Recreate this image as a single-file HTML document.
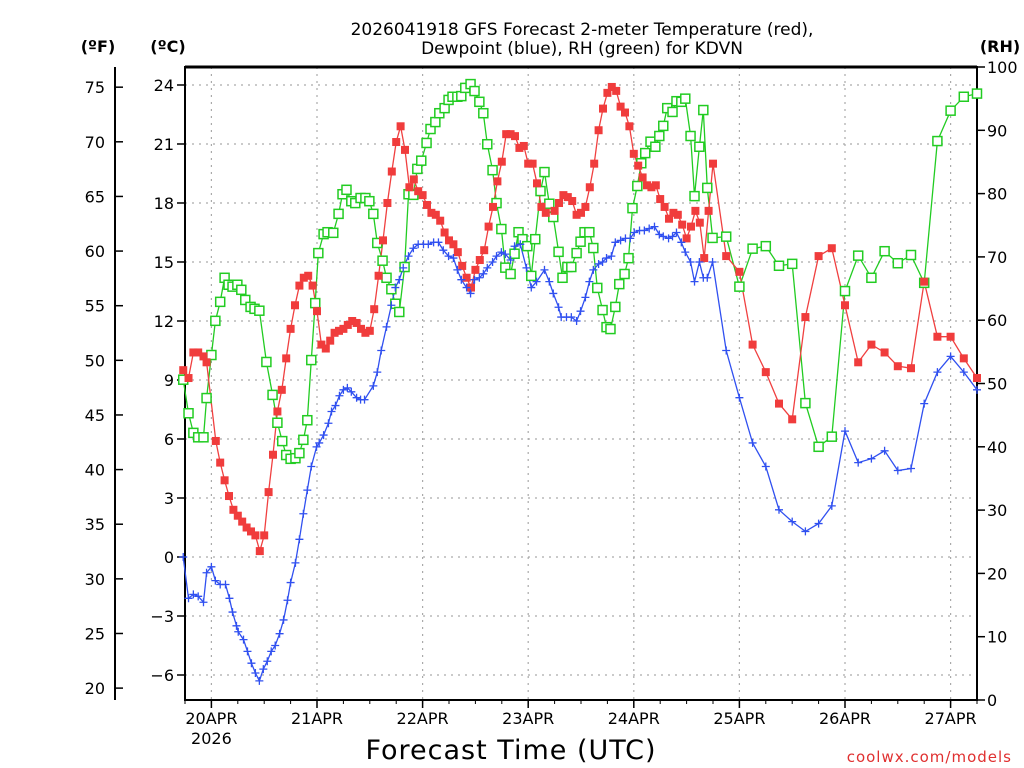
<!DOCTYPE html>
<html><head><meta charset="utf-8"><style>
html,body{margin:0;padding:0;background:#fff;}
svg{display:block;font-family:"DejaVu Sans","Liberation Sans",sans-serif;}
</style></head><body>
<svg id="chart" width="1024" height="768" viewBox="0 0 1024 768" xmlns="http://www.w3.org/2000/svg">
<text x="582" y="35" font-size="17" text-anchor="middle">2026041918 GFS Forecast 2-meter Temperature (red),</text>
<text x="582" y="54" font-size="17" text-anchor="middle">Dewpoint (blue), RH (green) for KDVN</text>
<text x="98" y="52" font-size="16" font-weight="bold" text-anchor="middle">(ºF)</text>
<text x="168" y="52" font-size="16" font-weight="bold" text-anchor="middle">(ºC)</text>
<text x="1000" y="52" font-size="16" font-weight="bold" text-anchor="middle">(RH)</text>
<text x="511" y="759" font-size="27" text-anchor="middle" letter-spacing="1">Forecast Time (UTC)</text>
<text x="1012" y="762" font-size="15" fill="#e03030" text-anchor="end" letter-spacing="1">coolwx.com/models</text>
<g id="grid"></g><g id="axes"></g><g id="series"></g>
</svg>
<script>
const dayLabels = ["20APR","21APR","22APR","23APR","24APR","25APR","26APR","27APR"];
const dayHours = [0,24,48,72,96,120,144,168];
const cTicks = [-6,-3,0,3,6,9,12,15,18,21,24];
const fTicks = [20,25,30,35,40,45,50,55,60,65,70,75];
const rhTicks = [0,10,20,30,40,50,60,70,80,90,100];

const tempHours = [-6.4,-5.2,-4.1,-3,-1.8,-1.1,1,2,3,4,5,6,7,8,9,10,11,12,13,14,15,16,17,18,19,20,21,22,23,24,25,26,27,28,29,30,31,32,33,34,35,36,37,38,39,40,41,42,43,44,45,46,47,48,49,50,51,52,53,54,55,56,57,58,59,60,61,62,63,64,65,66,67,68,69,70,71,72,73,74,75,76,78,79,80,81,82,83,84,85,86,87,88,89,90,91,92,93,94,95,96,97,98,99,100,101,102,103,104,105,106,107,108,109,110,111,112,113,114,117,120,123,126,129,132,135,138,141,144,147,150,153,156,159,162,165,168,171,174];
const tempC = [9.5,9.1,10.4,10.4,10.2,9.9,5.9,4.8,3.9,3.1,2.4,2.1,1.8,1.5,1.3,1.1,0.3,1.1,3.3,5.2,7.4,8.5,10.1,11.6,12.8,13.8,14.2,14.3,13.8,12.5,10.8,10.6,11.0,11.4,11.5,11.6,11.8,12.0,11.9,11.6,11.4,11.5,12.6,14.3,16.1,18.0,19.6,21.1,21.9,20.7,18.8,19.2,18.6,18.4,17.9,17.5,17.4,17.1,16.5,16.1,15.9,15.5,14.8,14.2,13.7,14.6,15.1,15.6,16.8,17.8,19.1,20.1,21.5,21.5,21.4,20.8,20.9,20.0,20.0,19.0,17.8,17.5,17.6,18.0,18.4,18.3,18.1,17.4,17.5,17.8,18.8,20.0,21.7,22.8,23.6,23.9,23.7,22.9,22.6,21.9,20.5,19.9,19.3,18.9,18.8,18.9,18.2,17.8,17.2,17.5,17.4,16.9,16.2,16.8,17.6,17.0,15.2,17.6,20.0,15.3,14.5,10.8,9.4,7.8,7.0,12.2,15.3,15.7,12.8,9.9,10.8,10.4,9.7,9.6,14.0,11.2,11.2,10.1,9.1];

const dewHours = [-6.4,-5.2,-4.1,-3,-1.8,-1.1,0,0.9,2,3.2,4.1,4.8,5.7,6.1,7.3,8.2,9.1,10,10.9,11.8,12.7,13.6,14.5,15.5,16.4,17.3,18,19.1,20,20.9,21.8,22.7,23.9,24.5,25.5,26.6,27.3,28.2,29.1,30,30.9,31.8,33,33.9,34.8,36.8,37.7,38.6,39.8,40.9,41.8,42.7,43.6,44.8,45.9,47,48.2,49.3,50.5,51.6,52.7,53.9,55,55.9,56.8,58,58.9,59.8,60.9,61.8,62.7,63.9,64.8,65.9,66.8,68,68.9,70.2,71.6,72.7,73.9,75.7,76.8,77.7,78.9,79.5,80.7,81.8,83,83.9,85,85.9,86.8,88,88.9,89.8,90.9,91.8,93,94.1,95.2,96.1,97.3,98.4,99.5,100.7,101.8,102.7,103.9,104.8,105.7,106.8,107.7,108.9,109.8,110.9,111.8,112.7,113.9,117,120,123,126,129,132,135,138,141,144,147,150,153,156,159,162,165,168,171,174];
const dewC = [0,-2.1,-1.9,-2.0,-2.3,-0.8,-0.5,-1.2,-1.4,-1.4,-2.1,-2.8,-3.5,-3.8,-4.2,-4.8,-5.4,-5.9,-6.3,-5.7,-5.3,-4.8,-4.5,-3.9,-3.2,-2.2,-1.3,-0.3,0.9,2.2,3.4,4.6,5.6,5.8,6.2,6.8,7.4,7.7,8.2,8.5,8.6,8.4,8.1,8.0,8.0,8.7,9.4,10.5,11.7,12.8,13.7,14.1,14.7,15.3,15.7,15.9,15.9,15.9,16.0,16.0,15.6,15.3,15.2,14.6,14.1,13.7,13.4,14.1,14.2,14.4,14.7,15.0,15.3,15.5,15.4,15.1,15.8,15.9,14.7,13.7,14.0,14.6,14.0,13.4,12.7,12.2,12.2,12.2,12.0,12.5,13.2,14.0,14.6,14.9,15.0,15.2,15.3,16.0,16.1,16.2,16.2,16.5,16.6,16.6,16.7,16.8,16.4,16.3,16.2,16.3,16.5,16.0,15.5,15.0,14.0,15.0,14.2,14.2,15.0,10.5,8.1,5.8,4.6,2.4,1.8,1.3,1.7,2.6,6.4,4.8,5.0,5.4,4.4,4.5,7.8,9.4,10.2,9.4,8.5];

const rhHours = [-6.4,-5.2,-4.1,-3,-1.8,-1.1,0,0.9,2,3,3.9,4.8,5.9,6.8,7.7,8.9,9.8,10.9,12.5,13.9,15,16.1,17,18,19.1,20,20.9,21.8,22.7,23.6,24.3,25.5,26.4,27.7,28.9,29.8,30.7,31.8,32.7,33.9,35,35.9,36.8,37.7,38.9,39.8,40.9,41.8,42.7,43.9,44.8,45.9,46.8,47.7,48.9,49.8,50.9,51.8,53,53.9,54.8,55.9,56.8,57.7,58.9,59.8,60.9,61.8,62.7,63.9,64.8,65.9,66.8,68,68.9,69.8,70.7,71.8,72.7,73.6,74.8,75.7,76.8,77.7,78.9,79.8,80.9,81.8,83,83.9,84.8,85.9,86.8,87.7,88.9,89.8,90.7,91.8,92.7,93.9,94.8,95.7,96.8,97.7,98.6,99.8,100.9,101.8,102.7,103.6,104.8,105.7,106.8,107.7,108.9,109.8,110.9,111.8,112.7,113.9,117,120,123,126,129,132,135,138,141,144,147,150,153,156,159,162,165,168,171,174];
const rhVals = [50.6,45.3,42.2,41.5,41.5,47.7,54.5,59.9,62.9,66.7,65.6,65.3,65.6,64.8,63.2,62.1,61.8,61.5,53.4,48.2,43.8,40.9,38.7,38.1,38.2,39.0,41.1,44.2,53.7,62.7,70.6,73.6,73.9,73.8,76.8,79.9,80.6,78.8,78.5,79.3,79.3,78.8,76.8,72.2,69.4,66.7,64.9,62.6,61.3,68.4,79.9,79.8,83.9,85.2,88.0,90.2,91.3,92.7,93.5,94.8,95.3,95.3,95.4,96.7,97.3,96.2,94.5,92.7,87.8,83.7,78.5,74.4,68.3,67.3,70.5,73.9,72.8,71.7,67.0,72.8,80.4,83.4,78.4,76.3,70.8,66.7,68.4,68.4,70.6,72.4,73.9,73.9,71.4,65.1,61.6,58.9,58.6,62.1,65.7,67.3,69.8,77.7,81.2,84.8,86.4,88.2,87.4,89.1,90.7,93.5,92.9,94.6,94.5,95.0,89.1,79.6,87.4,93.2,80.9,73.0,73.2,65.3,71.3,71.7,68.6,68.9,46.9,40.0,41.6,64.6,70.2,66.7,70.9,69.0,70.3,65.9,88.3,93.1,95.3,95.8];

const NS = "http://www.w3.org/2000/svg";
const L = 185, R = 977, T = 67, B = 700;
const xOf = h => L + (h + 6) * (R - L) / 180;
const yC = c => 557 - c * 19.667;
const yF = f => yC((f - 32) * 5 / 9);
const yRH = r => B - r * (B - T) / 100;
function mk(tag, attrs, parent) {
  const e = document.createElementNS(NS, tag);
  for (const k in attrs) e.setAttribute(k, attrs[k]);
  parent.appendChild(e);
  return e;
}
const grid = document.getElementById('grid');
const axes = document.getElementById('axes');
const series = document.getElementById('series');

cTicks.forEach(c => {
  const y = yC(c);
  const g = mk('line', {x1: L, x2: R, y1: y, y2: y, stroke: '#aaa', 'stroke-dasharray': '2,5', 'stroke-width': 1.2}, grid);
  
  
  const t = mk('line', {x1: L - 8, x2: L, y1: y, y2: y, stroke: '#000', 'stroke-width': 1.5}, axes);
  
  
  const lb = mk('text', {x: 174, y: y + 6, 'font-size': 16, 'text-anchor': 'end'}, axes);
  lb.textContent = c < 0 ? '\u2212' + Math.abs(c) : String(c);
  
  
});
dayHours.forEach((h, i) => {
  const x = xOf(h);
  const g = mk('line', {x1: x, x2: x, y1: T, y2: B, stroke: '#aaa', 'stroke-dasharray': '2,5', 'stroke-width': 1.2}, grid);
  
  
  const t = mk('line', {x1: x, x2: x, y1: B, y2: B + 8, stroke: '#000', 'stroke-width': 1.5}, axes);
  
  
  const lb = mk('text', {x: x, y: B + 24, 'font-size': 16, 'text-anchor': 'middle'}, axes);
  lb.textContent = dayLabels[i];
  
  
});
for (let h = -6; h <= 174; h += 6) {
  const x = xOf(h);
  const t = mk('line', {x1: x, x2: x, y1: B, y2: B + 4, stroke: '#000', 'stroke-width': 1}, axes);
  
  
}
const yr = mk('text', {x: xOf(0), y: B + 44, 'font-size': 16, 'text-anchor': 'middle'}, axes);
yr.textContent = '2026';



fTicks.forEach(f => {
  const y = yF(f);
  const t = mk('line', {x1: 115, x2: 123, y1: y, y2: y, stroke: '#000', 'stroke-width': 1.5}, axes);
  
  
  const lb = mk('text', {x: 105, y: y + 6, 'font-size': 16, 'text-anchor': 'end'}, axes);
  lb.textContent = String(f);
  
  
});
rhTicks.forEach(r => {
  const y = yRH(r);
  const t = mk('line', {x1: R, x2: R + 8, y1: y, y2: y, stroke: '#000', 'stroke-width': 1.5}, axes);
  
  
  const lb = mk('text', {x: 987, y: y + 6, 'font-size': 16, 'text-anchor': 'start'}, axes);
  lb.textContent = String(r);
  
  
});
const fAxis = mk('line', {x1: 115, x2: 115, y1: 67, y2: 700, stroke: '#000', 'stroke-width': 2}, axes);


const frame = mk('rect', {x: L, y: T, width: R - L, height: B - T, fill: 'none', stroke: '#000', 'stroke-width': 2}, axes);


const topEdge = mk('line', {x1: L, x2: R, y1: T, y2: T, stroke: '#000', 'stroke-width': 3}, axes);



function drawLine(hs, vs, yfn, color, name) {
  const pts = hs.map((h, i) => xOf(h).toFixed(1) + ',' + yfn(vs[i]).toFixed(1)).join(' ');
  const p = mk('polyline', {points: pts, fill: 'none', stroke: color, 'stroke-width': 1.3}, series);
  
  
}
drawLine(rhHours, rhVals, yRH, '#22cc22', 'rh-line');
drawLine(tempHours, tempC, yC, '#f04040', 'temperature-line');
drawLine(dewHours, dewC, yC, '#3050f0', 'dewpoint-line');

rhHours.forEach((h, i) => {
  const x = xOf(h), y = yRH(rhVals[i]);
  const m = mk('rect', {x: x - 4.5, y: y - 4.5, width: 9, height: 9, fill: '#fff', stroke: '#22cc22', 'stroke-width': 1.5}, series);
  
  
});
tempHours.forEach((h, i) => {
  const x = xOf(h), y = yC(tempC[i]);
  const m = mk('rect', {x: x - 4, y: y - 4, width: 8, height: 8, fill: '#f03c3c'}, series);
  
  
});
dewHours.forEach((h, i) => {
  const x = xOf(h), y = yC(dewC[i]);
  const m = mk('path', {d: `M${x-4},${y}H${x+4}M${x},${y-4}V${y+4}`, stroke: '#3050f0', 'stroke-width': 1.3, fill: 'none'}, series);
  
  
});
</script>
</body></html>
